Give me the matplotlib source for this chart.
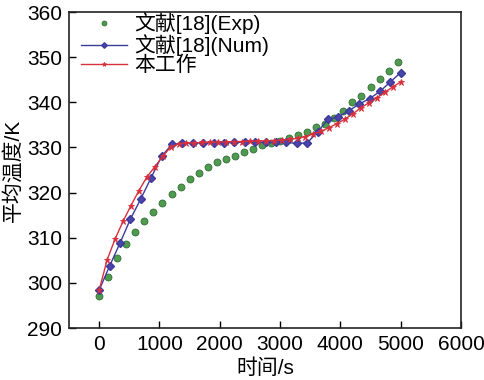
import matplotlib
matplotlib.use("Agg")
import matplotlib.pyplot as plt
import numpy as np

plt.rcParams['font.family'] = ['Liberation Sans', 'Noto Sans CJK SC']

# Exp data (文献[18])
exp_t = [0, 150, 300, 450, 600, 750, 900, 1050, 1200, 1350, 1500, 1650, 1800, 1950,
         2100, 2250, 2400, 2550, 2700, 2850, 3000, 3150, 3300, 3450, 3600, 3750, 3900,
         4050, 4200, 4350, 4500, 4650, 4800, 4950]
exp_T = [297.1, 301.4, 305.4, 308.7, 311.3, 313.7, 315.6, 317.8, 319.6, 321.2, 322.9,
         324.3, 325.6, 326.7, 327.5, 328.2, 328.9, 329.7, 330.5, 331.0, 331.5, 332.1,
         332.7, 333.4, 334.5, 335.3, 336.5, 338.1, 340.0, 341.4, 343.4, 345.2, 346.9, 348.9]

# Num data (文献[18])
num_t = [0, 172, 345, 517, 690, 862, 1034, 1207, 1379, 1552, 1724, 1897, 2069, 2241,
         2414, 2586, 2759, 2931, 3103, 3276, 3448, 3621, 3793, 3966, 4138, 4310, 4483,
         4655, 4828, 5000]
num_T = [298.4, 303.7, 308.8, 314.1, 318.6, 323.3, 328.0, 330.7, 331.0, 331.0, 331.0,
         331.0, 331.0, 331.1, 331.2, 331.2, 331.1, 331.1, 331.1, 330.9, 331.0, 333.4,
         336.2, 336.8, 338.1, 339.6, 340.8, 342.4, 344.5, 346.6]

# This work (本工作)
our_t = [0, 132, 263, 395, 526, 658, 789, 921, 1053, 1184, 1316, 1447, 1579, 1711,
         1842, 1974, 2105, 2237, 2368, 2500, 2632, 2763, 2895, 3026, 3158, 3289, 3421,
         3553, 3684, 3816, 3947, 4079, 4211, 4342, 4474, 4605, 4737, 4868, 5000]
our_T = [298.4, 305.1, 309.7, 313.6, 317.1, 320.4, 323.4, 325.7, 328.0, 330.1, 330.8,
         331.0, 331.0, 331.1, 331.1, 331.2, 331.2, 331.3, 331.3, 331.4, 331.4, 331.5,
         331.5, 331.6, 331.8, 332.0, 332.4, 333.0, 333.6, 334.4, 335.3, 336.3, 337.5,
         338.8, 339.9, 341.0, 342.2, 343.4, 344.5]

labels = ['文献[18](Exp)', '文献[18](Num)', '本工作']
xticks = [0, 1000, 2000, 3000, 4000, 5000, 6000]
yticks = [290, 300, 310, 320, 330, 340, 350, 360]

fig = plt.figure(figsize=(4.85, 3.8), dpi=100)
ax = fig.add_axes([0.1423, 0.1368, 0.8082, 0.8316])

ax.plot(exp_t, exp_T, linestyle='none', marker='o', markersize=5,
        markerfacecolor='#4f9a4f', markeredgecolor='#2f6f35', markeredgewidth=0.6,
        label=labels[0])
ax.plot(num_t, num_T, color='#3c3a9c', linewidth=1.0, marker='D', markersize=4,
        markerfacecolor='#4a45a8', markeredgecolor='#3c3a9c', label=labels[1])
ax.plot(our_t, our_T, color='#d8303c', linewidth=1.0, marker='*', markersize=4.5,
        markeredgewidth=0.6, label=labels[2])

ax.set_xlim(-500, 6000)
ax.set_ylim(290, 360)
ax.set_xticks(xticks)
ax.set_yticks(yticks)
ax.tick_params(direction='in', length=5, width=1, labelsize=15, top=False, right=False,
               pad=5)
for s in ax.spines.values():
    s.set_linewidth(1.2)
    s.set_color('#222222')

ax.set_xlabel('时间/s', fontsize=15, labelpad=3)
ax.set_ylabel('平均温度/K', fontsize=15, labelpad=3)

leg = ax.legend(loc='upper left', frameon=False, fontsize=15, handlelength=2.2,
                handletextpad=0.35, labelspacing=0.0, borderaxespad=0.0,
                bbox_to_anchor=(0.01, 1.025), markerscale=0.7)

fig.savefig('out.png', dpi=100)
